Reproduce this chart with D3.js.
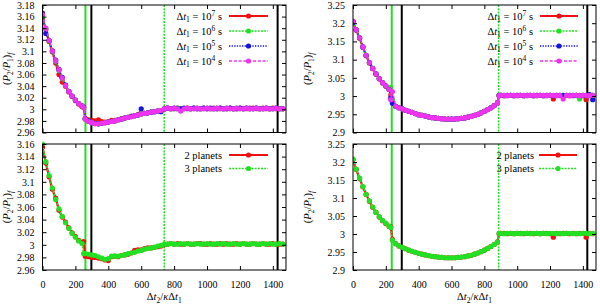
<!DOCTYPE html>
<html><head><meta charset="utf-8">
<script src="https://cdn.jsdelivr.net/npm/d3@7"></script>
<style>
body{margin:0;background:#fff}
svg{display:block}
text{font-family:"Liberation Serif","Times New Roman",serif;font-size:10.5px;fill:#000}
</style>
</head><body>
<svg id="c" width="600" height="304"></svg>
<script>
// ---------- DATA ----------
const xL = [0,20,40,60,80,100,120,140,160,180,200,220,240,250,
  260,280,300,320,340,360,380,400,420,440,460,480,500,520,540,560,580,600,620,640,660,680,700,720,
  740,760,780,800,820,840,860,880,900,920,940,960,980,1000,1020,1040,1060,1080,1100,1120,1140,1160,1180,1200,1220,1240,1260,1280,1300,1320,1340,1360,1380,1400,1420,1440,1460];
const xR = [0,20,40,60,80,100,120,140,160,180,200,220,230,240,
  260,280,300,320,340,360,380,400,420,440,460,480,500,520,540,560,580,600,620,640,660,680,700,720,740,760,780,800,820,840,860,880,
  890,900,920,940,960,980,1000,1020,1040,1060,1080,1100,1120,1140,1160,1180,1200,1220,1240,1260,1280,1300,1320,1340,1360,1380,1400,1420,1440,1460];

// top-left: four time steps
const tl_dt7 = [3.157,3.138,3.117,3.099,3.080,3.060,3.047,3.040,3.030,3.022,3.015,3.009,3.005,3.003,
  2.984,2.982,2.981,2.980,2.982,2.979,2.978,2.979,2.981,2.981,2.982,2.984,2.985,2.986,2.988,2.989,2.991,2.992,2.993,2.994,2.995,2.996,2.997,2.998,
  3.000,3.002,3.001,3.001,3.002,3.001,3.001,3.002,3.001,3.002,3.001,3.001,3.002,3.001,3.001,3.002,3.001,3.002,3.001,3.001,3.002,3.001,3.001,3.002,3.001,3.001,3.002,3.002,3.001,3.001,3.002,3.001,3.001,3.002,3.001,3.001,3.001];
const tl_dt6 = [3.160,3.139,3.118,3.100,3.083,3.067,3.053,3.041,3.031,3.023,3.016,3.010,3.006,3.003,
  2.983,2.980,2.977,2.976,2.975,2.976,2.977,2.978,2.979,2.981,2.982,2.983,2.985,2.986,2.988,2.989,2.990,2.992,2.993,2.994,2.995,2.996,2.997,2.998,
  3.001,3.002,3.001,3.001,3.002,3.001,3.001,3.002,3.001,3.001,3.002,3.001,3.001,3.002,3.001,3.001,3.002,3.001,3.001,3.002,3.001,3.001,3.002,3.001,3.001,3.002,3.001,3.001,3.002,3.001,3.001,3.002,3.001,3.001,3.002,3.001,3.001];
const tl_dt5 = [3.166,3.131,3.119,3.101,3.085,3.069,3.055,3.042,3.031,3.023,3.016,3.010,3.006,3.004,
  2.984,2.980,2.977,2.976,2.975,2.976,2.977,2.978,2.979,2.980,2.982,2.983,2.985,2.986,2.988,2.989,2.990,3.001,2.993,2.994,2.995,2.996,2.997,2.996,
  3.001,3.002,3.001,3.002,3.001,3.001,3.002,3.001,3.001,3.002,3.001,3.001,3.002,3.001,3.002,3.001,3.001,3.002,3.001,3.001,3.002,3.001,3.001,3.002,3.001,3.002,3.001,3.001,3.002,3.001,3.001,3.002,3.001,3.001,3.002,3.001,3.001];
const tl_dt4 = [3.163,3.140,3.119,3.101,3.084,3.068,3.054,3.041,3.031,3.023,3.016,3.010,3.006,3.003,
  2.983,2.979,2.977,2.975,2.975,2.976,2.977,2.978,2.979,2.980,2.982,2.983,2.985,2.986,2.987,2.989,2.990,2.992,2.993,2.994,2.995,2.996,2.997,2.998,
  3.001,3.002,3.001,3.002,3.001,2.997,3.001,3.002,3.001,3.001,3.002,3.001,3.001,3.002,3.001,3.001,3.002,3.001,3.001,3.002,3.001,3.001,3.002,3.001,3.001,3.002,3.001,3.001,3.002,3.001,3.001,3.002,3.001,3.001,3.002,3.001,3.001];

// bottom-left: 2 vs 3 planets
const bl_2p = [3.155,3.130,3.108,3.088,3.074,3.055,3.044,3.036,3.027,3.019,3.013,3.007,3.004,3.005,
  2.982,2.981,2.980,2.980,2.979,2.978,2.976,2.975,2.981,2.982,2.981,2.983,2.984,2.985,2.987,2.991,2.992,2.992,2.994,2.995,2.995,2.996,2.997,2.998,
  3.000,3.001,3.002,3.001,3.002,3.001,3.001,3.002,3.001,3.001,3.002,3.002,3.001,3.001,3.002,3.001,3.001,3.002,3.001,3.002,3.001,3.001,3.002,3.001,3.002,3.001,3.001,3.002,3.001,3.001,3.002,3.001,3.001,3.002,3.001,3.001,3.001];
const bl_3p = [3.160,3.132,3.110,3.090,3.072,3.057,3.045,3.035,3.026,3.018,3.012,3.006,3.002,2.986,
  2.986,2.985,2.984,2.983,2.981,2.979,2.977,2.978,2.982,2.982,2.982,2.983,2.984,2.986,2.987,2.988,2.990,2.991,2.993,2.994,2.995,2.996,2.998,2.999,
  3.001,3.001,3.002,3.001,3.001,3.002,3.001,3.002,3.001,3.001,3.002,3.001,3.001,3.002,3.001,3.001,3.002,3.001,3.002,3.001,3.001,3.002,3.001,3.001,3.002,3.001,3.001,3.002,3.001,3.001,3.002,3.001,3.002,3.001,3.001,3.002,3.001];

// top-right: four time steps
const tr_dt7 = [3.204,3.181,3.159,3.134,3.111,3.091,3.075,3.060,3.047,3.036,3.027,3.018,3.003,2.985,
  2.972,2.968,2.965,2.961,2.958,2.955,2.952,2.949,2.947,2.945,2.943,2.941,2.940,2.939,2.938,2.937,2.937,2.937,2.937,2.938,2.939,2.940,2.942,2.944,2.947,2.950,2.954,2.958,2.963,2.968,2.974,2.982,
  3.001,3.002,3.001,3.002,3.002,3.001,3.002,3.002,3.001,3.002,3.002,3.001,3.002,3.002,3.001,3.002,3.002,2.992,3.002,3.001,3.002,3.002,3.001,3.002,3.002,3.001,3.002,2.990,3.002,3.002];
const tr_dt6 = [3.205,3.182,3.160,3.135,3.112,3.092,3.076,3.061,3.048,3.037,3.028,3.019,3.024,2.990,
  2.972,2.968,2.965,2.961,2.958,2.955,2.952,2.949,2.947,2.945,2.943,2.941,2.940,2.939,2.938,2.937,2.937,2.937,2.937,2.938,2.939,2.940,2.942,2.944,2.947,2.950,2.954,2.958,2.963,2.968,2.974,2.982,
  3.001,3.002,3.002,3.001,3.002,3.002,3.001,3.002,3.002,3.001,3.002,3.002,3.001,3.002,3.002,3.001,3.002,3.002,3.001,3.002,3.002,3.001,3.002,3.002,3.001,2.992,3.002,3.001,3.002,3.002];
const tr_dt5 = [3.205,3.182,3.160,3.135,3.112,3.092,3.076,3.061,3.048,3.037,3.028,3.018,2.995,2.980,
  2.972,2.968,2.965,2.961,2.958,2.955,2.952,2.949,2.947,2.945,2.943,2.941,2.940,2.939,2.938,2.937,2.937,2.937,2.937,2.938,2.939,2.940,2.942,2.944,2.947,2.950,2.954,2.958,2.963,2.968,2.974,2.982,
  3.002,3.002,3.001,3.002,3.002,3.001,3.002,3.002,3.001,3.002,3.002,3.001,3.002,3.002,3.001,3.002,3.002,3.001,3.002,3.002,3.001,3.002,3.002,3.001,3.002,3.002,3.001,3.002,3.004,2.990];
const tr_dt4 = [3.205,3.182,3.160,3.135,3.112,3.092,3.076,3.061,3.048,3.037,3.028,3.018,2.990,3.012,
  2.972,2.968,2.965,2.961,2.958,2.955,2.952,2.949,2.947,2.945,2.943,2.941,2.940,2.939,2.938,2.937,2.937,2.937,2.937,2.938,2.939,2.940,2.942,2.944,2.947,2.950,2.954,2.958,2.963,2.968,2.974,2.982,
  3.001,3.002,3.002,3.001,3.002,3.002,3.001,3.002,3.002,3.001,3.002,3.002,3.001,3.002,3.002,3.001,3.002,3.002,3.001,3.002,2.992,3.002,3.001,3.002,3.002,3.001,3.002,3.002,3.001,3.002];

// bottom-right: 2 vs 3 planets
const br_2p = [3.207,3.179,3.154,3.131,3.110,3.091,3.074,3.060,3.047,3.037,3.029,3.021,3.020,2.985,
  2.973,2.967,2.963,2.959,2.955,2.952,2.949,2.946,2.944,2.942,2.940,2.938,2.937,2.936,2.935,2.934,2.934,2.934,2.934,2.935,2.936,2.937,2.939,2.941,2.944,2.947,2.951,2.955,2.960,2.965,2.971,2.978,
  3.001,3.002,3.002,3.001,3.002,3.001,3.002,3.002,3.001,3.002,3.002,3.001,3.002,3.001,3.002,3.002,3.001,2.991,3.002,3.001,3.002,3.002,3.001,3.002,3.001,3.002,3.002,2.991,3.002,3.001];
const br_3p = [3.208,3.180,3.155,3.132,3.110,3.092,3.075,3.060,3.048,3.038,3.030,3.022,3.018,2.983,
  2.973,2.967,2.963,2.959,2.955,2.952,2.949,2.946,2.944,2.942,2.940,2.938,2.937,2.936,2.935,2.934,2.934,2.934,2.934,2.935,2.936,2.937,2.939,2.941,2.944,2.947,2.951,2.955,2.960,2.965,2.971,2.978,
  3.001,3.002,3.001,3.002,3.002,3.001,3.002,3.001,3.002,3.002,3.001,3.002,3.002,3.001,3.002,3.001,3.002,3.002,3.001,3.002,3.001,3.002,3.002,3.001,3.002,3.001,3.002,3.002,3.001,3.002];

const xTicks = [0,200,400,600,800,1000,1200,1400];
const yTicksLeftTop = [2.96,2.98,3.00,3.02,3.04,3.06,3.08,3.10,3.12,3.14,3.16,3.18];
const yTicksLeftBottom = [2.96,2.98,3.00,3.02,3.04,3.06,3.08,3.10,3.12,3.14,3.16];
const yTicksRight = [2.90,2.95,3.00,3.05,3.10,3.15,3.20,3.25];
const dtExponents = ["7","6","5","4"];
const planetLabels = ["2 planets","3 planets"];
const vLinesLeft = [261, 297, 740, 1429];
const vLinesRight = [236, 297, 887, 1427];

// ---------- STYLES ----------
const styles = [
  {c:"#ee1111", w:2.2, d:null},
  {c:"#22e022", w:1.6, d:"2,1.2"},
  {c:"#1515dd", w:1.6, d:"1.3,1.3"},
  {c:"#ee33ee", w:1.6, d:"3,1.8"}
];
const vStyles = [
  {c:"#22dd22", w:2, d:null},
  {c:"#000", w:2, d:null},
  {c:"#22dd22", w:1.5, d:"2,1.2"},
  {c:"#000", w:2, d:null}
];

const svg = d3.select("#c");
const fmt = v => String(+v.toFixed(2));

function legendDt(sel, x, y, e) {
  const t = sel.append("text").attr("x", x).attr("y", y).attr("text-anchor","end");
  t.append("tspan").text("Δ");
  t.append("tspan").attr("font-style","italic").text("t");
  t.append("tspan").attr("font-size","7.5px").attr("dy",2.5).text("1");
  t.append("tspan").attr("dy",-2.5).text(" = 10");
  t.append("tspan").attr("font-size","7.5px").attr("dy",-4).text(e);
  t.append("tspan").attr("dy",4).text(" s");
}
function legendText(sel, x, y, s) {
  sel.append("text").attr("x", x).attr("y", y).attr("text-anchor","end").text(s);
}

function panel(o) {
  const x = d3.scaleLinear().domain([0,1480]).range([o.x0, o.x1]);
  const y = d3.scaleLinear().domain(o.yDom).range([o.y1, o.y0]);
  const g = svg.append("g");
  const cid = "clip" + o.id;
  svg.append("clipPath").attr("id", cid).append("rect")
    .attr("x", o.x0).attr("y", o.y0 - 3).attr("width", o.x1 - o.x0 + 4).attr("height", o.y1 - o.y0 + 3);

  o.vlines.forEach((v, i) => {
    const s = vStyles[i];
    g.append("line").attr("x1", x(v)).attr("x2", x(v)).attr("y1", o.y0).attr("y2", o.y1)
      .attr("stroke", s.c).attr("stroke-width", s.w).attr("stroke-dasharray", s.d);
  });

  const pg = g.append("g").attr("clip-path", `url(#${cid})`);
  o.series.forEach((ys, i) => {
    const s = styles[o.styleIdx[i]];
    const pts = d3.zip(o.xs, ys);
    pg.append("path").datum(pts)
      .attr("d", d3.line().x(d => x(d[0])).y(d => y(d[1])))
      .attr("fill","none").attr("stroke", s.c).attr("stroke-width", s.w).attr("stroke-dasharray", s.d);
    pg.append("g").selectAll("circle").data(pts).join("circle")
      .attr("cx", d => x(d[0])).attr("cy", d => y(d[1])).attr("r", 2.6).attr("fill", s.c);
  });

  const ax = svg.append("g");
  ax.append("g").attr("transform", `translate(${o.x0},0)`)
    .call(d3.axisLeft(y).tickValues(o.yTicks).tickSize(-4).tickPadding(8).tickFormat(fmt));
  ax.append("g").attr("transform", `translate(${o.x1},0)`)
    .call(d3.axisRight(y).tickValues(o.yTicks).tickSize(-4).tickFormat(""));
  ax.append("g").attr("transform", `translate(0,${o.y0})`)
    .call(d3.axisTop(x).tickValues(xTicks).tickSize(-4).tickFormat(""));
  ax.append("g").attr("transform", `translate(0,${o.y1})`)
    .call(d3.axisBottom(x).tickValues(xTicks).tickSize(-4).tickPadding(11).tickFormat(o.xLabels ? d3.format("d") : ""));
  ax.selectAll(".domain").remove();
  ax.selectAll(".tick line").attr("stroke","#000");
  ax.selectAll("text").attr("font-family", null).attr("font-size", null).style("font-size","10px");
  ax.append("rect").attr("x", o.x0).attr("y", o.y0).attr("width", o.x1 - o.x0).attr("height", o.y1 - o.y0)
    .attr("fill","none").attr("stroke","#000").attr("stroke-width",1);

  const yl = svg.append("text").attr("text-anchor","middle")
    .attr("transform", `translate(${o.ylx},${(o.y0 + o.y1) / 2}) rotate(-90)`);
  yl.append("tspan").text("(");
  yl.append("tspan").attr("font-style","italic").text("P");
  yl.append("tspan").attr("font-size","7.5px").attr("dy",2.5).text("2");
  yl.append("tspan").attr("dy",-2.5).text("/");
  yl.append("tspan").attr("font-style","italic").text("P");
  yl.append("tspan").attr("font-size","7.5px").attr("dy",2.5).text("1");
  yl.append("tspan").attr("dy",-2.5).text(")");
  yl.append("tspan").attr("font-size","7.5px").attr("font-style","italic").attr("dy",2.5).text("f");

  if (o.xLabels) {
    const xl = svg.append("text").attr("text-anchor","middle").attr("x", (o.x0 + o.x1) / 2).attr("y", 300);
    xl.append("tspan").text("Δ");
    xl.append("tspan").attr("font-style","italic").text("t");
    xl.append("tspan").attr("font-size","7.5px").attr("dy",2.5).text("2");
    xl.append("tspan").attr("dy",-2.5).text("/");
    xl.append("tspan").attr("font-style","italic").text("κ");
    xl.append("tspan").text("Δ");
    xl.append("tspan").attr("font-style","italic").text("t");
    xl.append("tspan").attr("font-size","7.5px").attr("dy",2.5).text("1");
  }

  const lg = svg.append("g");
  o.legend.forEach((lab, i) => {
    const s = styles[o.styleIdx[i]];
    const cy = o.legY + i * o.legDy;
    if (o.isDt) legendDt(lg, o.legTx, cy + 3.5, lab); else legendText(lg, o.legTx, cy + 3.5, lab);
    lg.append("line").attr("x1", o.legL0).attr("x2", o.legL1).attr("y1", cy).attr("y2", cy)
      .attr("stroke", s.c).attr("stroke-width", s.w).attr("stroke-dasharray", s.d);
    lg.append("circle").attr("cx", (o.legL0 + o.legL1) / 2).attr("cy", cy).attr("r", 2.6).attr("fill", s.c);
  });
}

panel({id:"tl", x0:42.5, x1:286, y0:5, y1:132.5, yDom:[2.96,3.18], yTicks:yTicksLeftTop,
  xs:xL, series:[tl_dt7, tl_dt6, tl_dt5, tl_dt4], styleIdx:[0,1,2,3], vlines:vLinesLeft,
  xLabels:false, ylx:10, legend:dtExponents, isDt:true, legTx:222, legL0:229, legL1:268, legY:16, legDy:15});
panel({id:"bl", x0:42.5, x1:286, y0:144, y1:270, yDom:[2.96,3.16], yTicks:yTicksLeftBottom,
  xs:xL, series:[bl_2p, bl_3p], styleIdx:[0,1], vlines:vLinesLeft,
  xLabels:true, ylx:10, legend:planetLabels, isDt:false, legTx:222, legL0:229, legL1:268, legY:155, legDy:13.5});
panel({id:"tr", x0:353, x1:596, y0:5, y1:132.5, yDom:[2.9,3.25], yTicks:yTicksRight,
  xs:xR, series:[tr_dt7, tr_dt6, tr_dt5, tr_dt4], styleIdx:[0,1,2,3], vlines:vLinesRight,
  xLabels:false, ylx:311, legend:dtExponents, isDt:true, legTx:533, legL0:540, legL1:578, legY:16, legDy:15});
panel({id:"br", x0:353, x1:596, y0:144, y1:270, yDom:[2.9,3.25], yTicks:yTicksRight,
  xs:xR, series:[br_2p, br_3p], styleIdx:[0,1], vlines:vLinesRight,
  xLabels:true, ylx:311, legend:planetLabels, isDt:false, legTx:534, legL0:539, legL1:577, legY:155, legDy:13.5});
</script>
</body></html>
